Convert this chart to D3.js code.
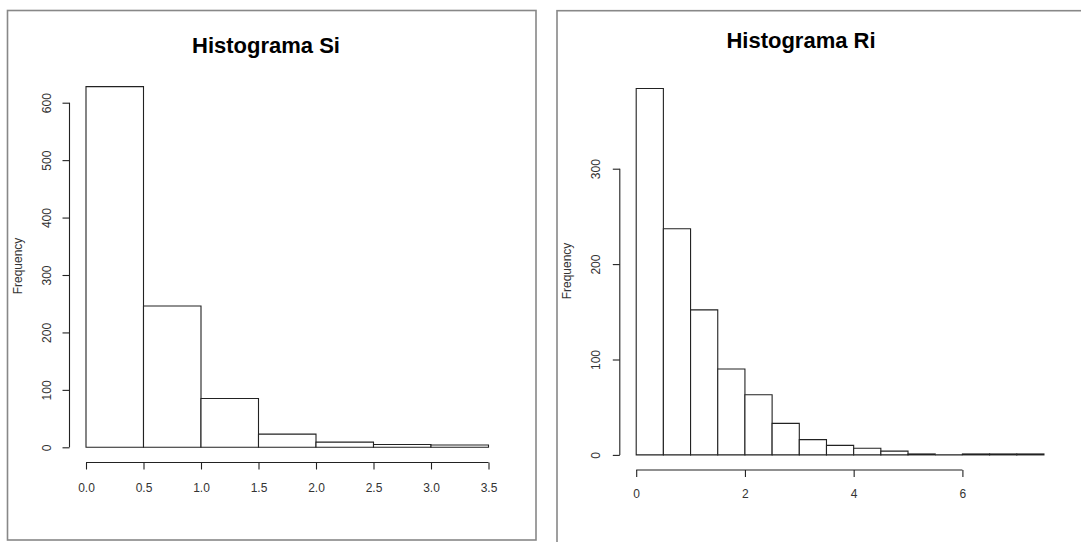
<!DOCTYPE html>
<html>
<head>
<meta charset="utf-8">
<script src="https://cdn.jsdelivr.net/npm/d3@7"></script>
<style>
  html, body { margin: 0; padding: 0; background: #fff; }
  svg { display: block; }
  text { font-family: "Liberation Sans", Arial, sans-serif; }
</style>
</head>
<body>
<svg id="chart" width="1081" height="542"></svg>
<script>
// ---- Data ----
const siBinEdges = [0, 0.5, 1.0, 1.5, 2.0, 2.5, 3.0, 3.5];
const siCounts = [628, 246, 85, 23, 9, 5, 4];
const siXTicks = [0, 0.5, 1.0, 1.5, 2.0, 2.5, 3.0, 3.5];
const siYTicks = [0, 100, 200, 300, 400, 500, 600];

const riBinEdges = [0, 0.5, 1, 1.5, 2, 2.5, 3, 3.5, 4, 4.5, 5, 5.5, 6, 6.5, 7, 7.5];
const riCounts = [384, 237, 152, 90, 63, 33, 16, 10, 7, 4, 1, 0, 1, 1, 1];
const riXTicks = [0, 2, 4, 6];
const riYTicks = [0, 100, 200, 300];

const svg = d3.select("#chart");
const lineColor = "#222";
const textColor = "#333";

function panel(cfg) {
  const g = svg.append("g");
  // panel border
  g.append("rect")
    .attr("x", cfg.box[0]).attr("y", cfg.box[1])
    .attr("width", cfg.box[2]).attr("height", cfg.box[3])
    .attr("fill", "none").attr("stroke", "#888").attr("stroke-width", 1.6);

  const x = d3.scaleLinear().domain(cfg.xDomain).range(cfg.xRange);
  const y = d3.scaleLinear().domain(cfg.yDomain).range(cfg.yRange);

  // title
  g.append("text")
    .attr("x", cfg.titleX).attr("y", cfg.titleY)
    .attr("text-anchor", "middle")
    .attr("font-size", 22).attr("font-weight", "bold")
    .attr("fill", "#000")
    .text(cfg.title);

  // bars (drawn as closed paths so zero-count bins still show a baseline)
  const bins = cfg.counts.map((c, i) => ({x0: cfg.edges[i], x1: cfg.edges[i + 1], c}));
  g.append("g").selectAll("path").data(bins).join("path")
    .attr("d", d => `M${x(d.x0)},${y(0)}V${y(d.c)}H${x(d.x1)}V${y(0)}Z`)
    .attr("fill", "#fff")
    .attr("stroke", lineColor)
    .attr("stroke-width", 1.1);

  // x axis
  const xa = g.append("g")
    .attr("transform", `translate(0,${cfg.xAxisY})`)
    .call(d3.axisBottom(x).tickValues(cfg.xTicks).tickSize(7).tickSizeOuter(0)
      .tickFormat(cfg.xFormat));
  xa.select(".domain").attr("stroke", lineColor).attr("stroke-width", 1.1)
    .attr("d", `M${x(cfg.xTicks[0])},0H${x(cfg.xTicks[cfg.xTicks.length - 1])}`);
  xa.selectAll(".tick line").attr("stroke", lineColor).attr("stroke-width", 1.1);
  xa.selectAll(".tick text")
    .attr("font-size", 12).attr("fill", textColor)
    .attr("font-family", "Liberation Sans, Arial, sans-serif")
    .attr("dy", "0")
    .attr("y", cfg.xLabelDy);

  // y axis
  const ya = g.append("g")
    .attr("transform", `translate(${cfg.yAxisX},0)`)
    .call(d3.axisLeft(y).tickValues(cfg.yTicks).tickSize(7).tickSizeOuter(0)
      .tickFormat(d3.format("d")));
  ya.select(".domain").attr("stroke", lineColor).attr("stroke-width", 1.1)
    .attr("d", `M0,${y(cfg.yTicks[0])}V${y(cfg.yTicks[cfg.yTicks.length - 1])}`);
  ya.selectAll(".tick line").attr("stroke", lineColor).attr("stroke-width", 1.1);
  ya.selectAll(".tick text")
    .attr("font-size", 12).attr("fill", textColor)
    .attr("font-family", "Liberation Sans, Arial, sans-serif")
    .attr("text-anchor", "middle")
    .attr("transform", "rotate(-90)")
    .attr("x", 0)
    .attr("y", -cfg.yLabelDist)
    .attr("dy", "0.35em");

  // y label
  g.append("text")
    .attr("transform", `translate(${cfg.yTitleX},${cfg.yTitleY}) rotate(-90)`)
    .attr("text-anchor", "middle")
    .attr("dy", "0.35em")
    .attr("font-size", 12).attr("fill", textColor)
    .text("Frequency");
}

panel({
  box: [7.5, 10.5, 528.5, 529.5],
  title: "Histograma Si", titleX: 266, titleY: 53,
  edges: siBinEdges, counts: siCounts,
  xDomain: [0, 3.5], xRange: [86, 488.5],
  yDomain: [0, 600], yRange: [447.3, 102.7],
  xTicks: siXTicks, xFormat: d3.format(".1f"),
  yTicks: siYTicks,
  xAxisY: 462.5, xLabelDy: 29,
  yAxisX: 69.5, yLabelDist: 22.5,
  yTitleX: 18, yTitleY: 266
});

panel({
  box: [557, 10.7, 540, 540],
  title: "Histograma Ri", titleX: 801, titleY: 48,
  edges: riBinEdges, counts: riCounts,
  xDomain: [0, 6], xRange: [636.2, 962.4],
  yDomain: [0, 300], yRange: [454.9, 168.7],
  xTicks: riXTicks, xFormat: d3.format("d"),
  yTicks: riYTicks,
  xAxisY: 470, xLabelDy: 28,
  yAxisX: 619.8, yLabelDist: 24.5,
  yTitleX: 567, yTitleY: 271
});
</script>
</body>
</html>
